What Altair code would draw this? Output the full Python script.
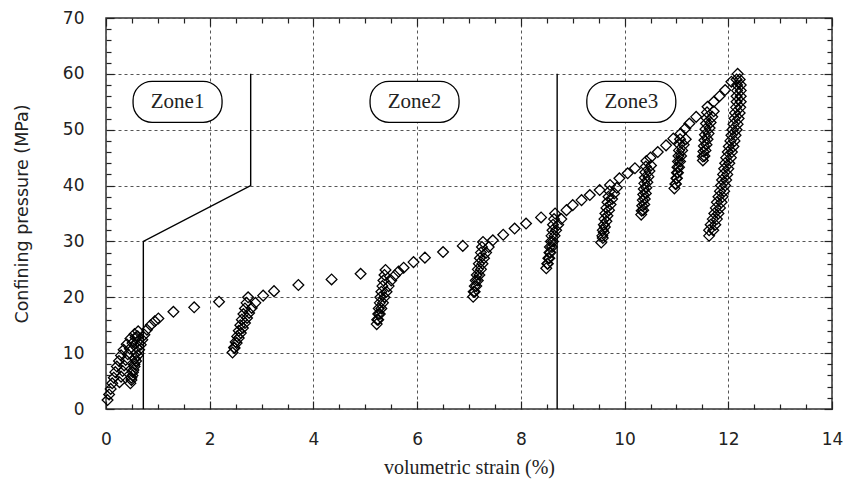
import altair as alt
import pandas as pd

# ---------------- data ----------------
# initial loading / unloading / reloading cluster
init_load_x = [0.03, 0.06, 0.09, 0.12, 0.15, 0.18, 0.21, 0.25, 0.29, 0.34, 0.40, 0.47, 0.55, 0.62]
init_load_y = [1.6, 2.6, 3.6, 4.6, 5.6, 6.6, 7.6, 8.6, 9.6, 10.6, 11.6, 12.6, 13.4, 13.9]
init_mid_x = [0.26, 0.29, 0.32, 0.35, 0.38, 0.42, 0.46, 0.51, 0.57]
init_mid_y = [4.8, 5.8, 6.8, 7.8, 8.8, 9.8, 10.8, 11.8, 12.8]
init_unload_x = [0.61, 0.60, 0.59, 0.58, 0.56, 0.55, 0.53, 0.51, 0.49, 0.47]
init_unload_y = [13.0, 12.0, 11.0, 10.0, 9.0, 8.0, 7.0, 6.0, 5.2, 4.6]
init_reload_x = [0.49, 0.52, 0.55, 0.58, 0.61, 0.64, 0.67, 0.70, 0.74, 0.79, 0.86, 0.94, 1.01]
init_reload_y = [5.6, 6.6, 7.6, 8.6, 9.6, 10.6, 11.5, 12.4, 13.3, 14.2, 15.0, 15.7, 16.2]

env1_x = [1.30, 1.70, 2.18]
env1_y = [17.4, 18.2, 19.2]
loop1_unload_x = [2.74, 2.71, 2.68, 2.65, 2.62, 2.59, 2.56, 2.53, 2.50, 2.47, 2.44]
loop1_unload_y = [20.0, 19.0, 18.0, 17.0, 16.0, 15.0, 14.0, 13.0, 12.0, 11.0, 10.1]
loop1_reload_x = [2.48, 2.52, 2.56, 2.60, 2.64, 2.68, 2.72, 2.76, 2.81, 2.88]
loop1_reload_y = [10.9, 11.8, 12.7, 13.6, 14.5, 15.4, 16.3, 17.2, 18.1, 19.0]

env2_x = [3.03, 3.24, 3.71, 4.35, 4.91]
env2_y = [20.3, 21.1, 22.2, 23.2, 24.2]
loop2_unload_x = [5.39, 5.37, 5.35, 5.33, 5.31, 5.29, 5.28, 5.26, 5.25, 5.23, 5.22]
loop2_unload_y = [24.9, 24.0, 23.0, 22.0, 21.0, 20.0, 19.0, 18.0, 17.0, 16.0, 15.2]
loop2_reload_x = [5.25, 5.28, 5.31, 5.34, 5.37, 5.41, 5.45, 5.50, 5.57, 5.64]
loop2_reload_y = [16.0, 17.0, 18.0, 19.0, 20.0, 21.0, 22.0, 23.0, 23.9, 24.6]

env3_x = [5.74, 5.93, 6.15, 6.50, 6.88]
env3_y = [25.3, 26.3, 27.1, 28.1, 29.2]
loop3_unload_x = [7.27, 7.25, 7.23, 7.21, 7.19, 7.17, 7.15, 7.13, 7.11, 7.09, 7.08]
loop3_unload_y = [29.9, 29.0, 28.0, 27.0, 26.0, 25.0, 24.0, 23.0, 22.0, 21.0, 20.1]
loop3_reload_x = [7.11, 7.14, 7.17, 7.20, 7.23, 7.26, 7.29, 7.33, 7.38]
loop3_reload_y = [21.0, 22.0, 23.0, 24.0, 25.0, 26.0, 27.0, 28.0, 29.0]

env4_x = [7.46, 7.66, 7.88, 8.10, 8.39]
env4_y = [30.2, 31.2, 32.3, 33.2, 34.3]
loop4_unload_x = [8.66, 8.64, 8.62, 8.61, 8.59, 8.58, 8.56, 8.55, 8.53, 8.51, 8.49]
loop4_unload_y = [35.0, 34.0, 33.0, 32.0, 31.0, 30.0, 29.0, 28.0, 27.0, 26.0, 25.2]
loop4_reload_x = [8.52, 8.55, 8.57, 8.60, 8.62, 8.65, 8.68, 8.72, 8.78]
loop4_reload_y = [26.0, 27.0, 28.0, 29.0, 30.0, 31.0, 32.0, 33.0, 34.0]

env5_x = [8.88, 9.00, 9.17, 9.33, 9.52]
env5_y = [35.6, 36.5, 37.4, 38.3, 39.2]
loop5_unload_x = [9.72, 9.71, 9.69, 9.67, 9.65, 9.63, 9.61, 9.60, 9.58, 9.57, 9.55]
loop5_unload_y = [40.1, 39.0, 38.0, 37.0, 36.0, 35.0, 34.0, 33.0, 32.0, 31.0, 29.8]
loop5_reload_x = [9.58, 9.60, 9.62, 9.65, 9.67, 9.70, 9.73, 9.76, 9.80, 9.85]
loop5_reload_y = [30.6, 31.6, 32.6, 33.6, 34.6, 35.6, 36.6, 37.6, 38.6, 39.6]

env6_x = [9.90, 10.06, 10.20]
env6_y = [41.3, 42.2, 43.1]
loop6_unload_x = [10.42, 10.41, 10.40, 10.39, 10.38, 10.37, 10.36, 10.35, 10.34, 10.33, 10.32]
loop6_unload_y = [44.4, 43.4, 42.4, 41.4, 40.4, 39.4, 38.4, 37.4, 36.4, 35.5, 34.8]
loop6_reload_x = [10.36, 10.38, 10.39, 10.41, 10.42, 10.44, 10.46, 10.48, 10.51]
loop6_reload_y = [35.6, 36.6, 37.6, 38.6, 39.6, 40.6, 41.6, 42.6, 43.6]

env7_x = [10.50, 10.64, 10.80, 10.94]
env7_y = [45.0, 46.0, 47.2, 48.4]
loop7_unload_x = [11.08, 11.07, 11.06, 11.05, 11.04, 11.03, 11.02, 11.01, 11.00, 10.98, 10.96]
loop7_unload_y = [49.3, 48.3, 47.3, 46.3, 45.3, 44.3, 43.3, 42.3, 41.3, 40.3, 39.5]
loop7_reload_x = [10.99, 11.01, 11.03, 11.05, 11.07, 11.09, 11.11, 11.14, 11.18]
loop7_reload_y = [40.3, 41.3, 42.3, 43.3, 44.3, 45.3, 46.3, 47.3, 48.3]

env8_x = [11.17, 11.25, 11.38]
env8_y = [50.2, 51.1, 52.3]
loop8_unload_x = [11.60, 11.59, 11.58, 11.57, 11.56, 11.55, 11.54, 11.53, 11.52, 11.51, 11.51]
loop8_unload_y = [54.1, 53.1, 52.1, 51.1, 50.1, 49.1, 48.1, 47.1, 46.1, 45.2, 44.5]
loop8_reload_x = [11.54, 11.56, 11.58, 11.60, 11.62, 11.64, 11.66, 11.69, 11.72]
loop8_reload_y = [45.3, 46.3, 47.3, 48.3, 49.3, 50.3, 51.3, 52.3, 53.3]

env9_x = [11.72, 11.83, 11.94, 12.06]
env9_y = [55.0, 56.0, 57.1, 58.6]
final_unload_x = [12.18, 12.22, 12.24, 12.24, 12.24, 12.24, 12.23, 12.22, 12.20, 12.18,
                  12.16, 12.14, 12.12, 12.10, 12.07, 12.05, 12.02, 12.00, 11.98, 11.96,
                  11.94, 11.92, 11.89, 11.87, 11.84, 11.81, 11.78, 11.75, 11.71, 11.63]
final_unload_y = [60.0, 59, 58, 57, 56, 55, 54, 53, 52, 51,
                  50, 49, 48, 47, 46, 45, 44, 43, 42, 41,
                  40, 39, 38, 37, 36, 35, 34, 33, 32, 31]
final_reload_x = [11.63, 11.66, 11.70, 11.73, 11.76, 11.78, 11.81, 11.84, 11.86, 11.88,
                  11.90, 11.92, 11.94, 11.96, 11.99, 12.01, 12.04, 12.06, 12.08, 12.10,
                  12.12, 12.13, 12.15, 12.16, 12.16, 12.17, 12.17, 12.16]
final_reload_y = [32, 33, 34, 35, 36, 37, 38, 39, 40, 41,
                  42, 43, 44, 45, 46, 47, 48, 49, 50, 51,
                  52, 53, 54, 55, 56, 57, 58, 59]

# zone boundaries
boundary1_x = [0.72, 0.72, 2.79, 2.79]
boundary1_y = [0, 30, 40, 60]
boundary2_x = [8.70, 8.70]
boundary2_y = [0, 60]

# zone labels
zone_names = ["Zone1", "Zone2", "Zone3"]
zone_x = [1.38, 5.95, 10.13]
zone_y = [55.0, 55.0, 55.0]

# axis ticks
x_major = [0, 2, 4, 6, 8, 10, 12, 14]
y_major = [0, 10, 20, 30, 40, 50, 60, 70]
x_minor = [v / 2 for v in range(1, 28) if v % 4 != 0]
y_minor = [v for v in range(2, 70, 2) if v % 10 != 0]

# ---------------- build tables ----------------
segments = [
    (init_load_x, init_load_y), (init_mid_x, init_mid_y),
    (init_unload_x, init_unload_y), (init_reload_x, init_reload_y),
    (env1_x, env1_y), (loop1_unload_x, loop1_unload_y), (loop1_reload_x, loop1_reload_y),
    (env2_x, env2_y), (loop2_unload_x, loop2_unload_y), (loop2_reload_x, loop2_reload_y),
    (env3_x, env3_y), (loop3_unload_x, loop3_unload_y), (loop3_reload_x, loop3_reload_y),
    (env4_x, env4_y), (loop4_unload_x, loop4_unload_y), (loop4_reload_x, loop4_reload_y),
    (env5_x, env5_y), (loop5_unload_x, loop5_unload_y), (loop5_reload_x, loop5_reload_y),
    (env6_x, env6_y), (loop6_unload_x, loop6_unload_y), (loop6_reload_x, loop6_reload_y),
    (env7_x, env7_y), (loop7_unload_x, loop7_unload_y), (loop7_reload_x, loop7_reload_y),
    (env8_x, env8_y), (loop8_unload_x, loop8_unload_y), (loop8_reload_x, loop8_reload_y),
    (env9_x, env9_y), (final_unload_x, final_unload_y), (final_reload_x, final_reload_y),
]
xs, ys = [], []
for sx, sy in segments:
    assert len(sx) == len(sy)
    xs += list(sx)
    ys += list(sy)
points = pd.DataFrame({"strain": xs, "pressure": ys})

rows = []
for name, bx, by in [("b1", boundary1_x, boundary1_y), ("b2", boundary2_x, boundary2_y)]:
    for i, (a, b) in enumerate(zip(bx, by)):
        rows.append({"line": name, "ord": i, "strain": a, "pressure": b})
lines = pd.DataFrame(rows)

zones = pd.DataFrame({"label": zone_names, "strain": zone_x, "pressure": zone_y})

# ---------------- scales & axes ----------------
xscale = alt.Scale(domain=[0, 14], nice=False, zero=False)
yscale = alt.Scale(domain=[0, 70], nice=False, zero=False)

INK = "#222222"
LABEL_FONT = "DejaVu Sans"

common = dict(domain=False, tickColor=INK, tickWidth=1.2, labelColor=INK,
              labelFont=LABEL_FONT, labelFontSize=17, titleColor=INK)

ax_bottom_major = alt.Axis(orient="bottom", values=x_major, tickSize=8, offset=-8,
                           grid=True, gridDash=[3, 3], gridColor="#555555", gridWidth=1,
                           labelPadding=22, labelFlush=False,
                           title="volumetric strain (%)", titleFont="Liberation Serif",
                           titleFontSize=20, titleFontWeight="normal", titlePadding=10,
                           **common)
ax_left_major = alt.Axis(orient="left", values=y_major, tickSize=8, offset=-8,
                         grid=True, gridDash=[3, 3], gridColor="#555555", gridWidth=1,
                         labelPadding=22, labelFlush=False,
                         title="Confining pressure (MPa)", titleFont=LABEL_FONT,
                         titleFontSize=17.5, titleFontWeight="normal", titlePadding=31,
                         **common)
ax_bottom_minor = alt.Axis(orient="bottom", values=x_minor, tickSize=5, offset=-5,
                           grid=False, labels=False, title=None, **common)
ax_left_minor = alt.Axis(orient="left", values=y_minor, tickSize=5, offset=-5,
                         grid=False, labels=False, title=None, **common)
ax_top_major = alt.Axis(orient="top", values=x_major, tickSize=8, offset=-8,
                        grid=False, labels=False, title=None, **common)
ax_right_major = alt.Axis(orient="right", values=y_major, tickSize=8, offset=-8,
                          grid=False, labels=False, title=None, **common)
ax_top_minor = alt.Axis(orient="top", values=x_minor, tickSize=5, offset=-5,
                        grid=False, labels=False, title=None, **common)
ax_right_minor = alt.Axis(orient="right", values=y_minor, tickSize=5, offset=-5,
                          grid=False, labels=False, title=None, **common)

# ---------------- layers ----------------
pts = alt.Chart(points).mark_point(shape="diamond", size=115, filled=False,
                                   stroke="black", strokeWidth=1.3, opacity=1).encode(
    x=alt.X("strain:Q", scale=xscale, axis=ax_bottom_major),
    y=alt.Y("pressure:Q", scale=yscale, axis=ax_left_major),
)

bounds = alt.Chart(lines).mark_line(color="black", strokeWidth=1.4).encode(
    x=alt.X("strain:Q", scale=xscale, axis=ax_bottom_minor),
    y=alt.Y("pressure:Q", scale=yscale, axis=ax_left_minor),
    detail="line:N",
    order="ord:Q",
)

boxes = alt.Chart(zones).mark_rect(width=89, height=41, cornerRadius=19, fill="white",
                                   stroke="black", strokeWidth=1.3).encode(
    x=alt.X("strain:Q", scale=xscale, axis=ax_top_major),
    y=alt.Y("pressure:Q", scale=yscale, axis=ax_right_major),
)

texts = alt.Chart(zones).mark_text(font="Liberation Serif", fontSize=21, color=INK,
                                   align="center", baseline="middle").encode(
    x=alt.X("strain:Q", scale=xscale, axis=ax_top_minor),
    y=alt.Y("pressure:Q", scale=yscale, axis=ax_right_minor),
    text="label:N",
)

chart = alt.layer(bounds, pts, boxes, texts).resolve_axis(
    x="independent", y="independent"
).properties(
    width=726, height=391,
    autosize=alt.AutoSizeParams(type="none"),
    padding={"left": 106, "top": 18, "right": 13, "bottom": 77},
    background="white",
).configure_view(stroke="#333333", strokeWidth=1.5)

chart.save("out.html", embed_options={"renderer": "svg", "actions": False})
